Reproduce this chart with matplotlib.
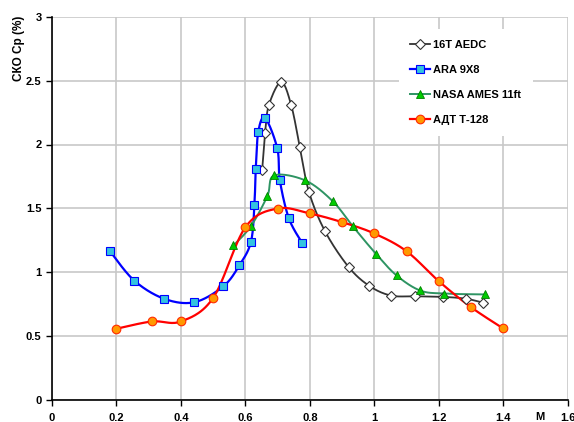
import numpy as np
import matplotlib
matplotlib.use("Agg")
import matplotlib.pyplot as plt
from matplotlib.lines import Line2D

plt.rcParams['font.family'] = ['Liberation Sans', 'DejaVu Sans']

# ---- data ----
m_aedc = [0.652, 0.661, 0.673, 0.711, 0.742, 0.769, 0.797, 0.847, 0.920, 0.985, 1.052, 1.126, 1.214, 1.285, 1.336]
v_aedc = [1.80, 2.09, 2.31, 2.49, 2.31, 1.98, 1.63, 1.32, 1.04, 0.89, 0.815, 0.81, 0.805, 0.79, 0.76]

m_ara = [0.180, 0.255, 0.348, 0.442, 0.532, 0.581, 0.617, 0.628, 0.632, 0.640, 0.661, 0.699, 0.707, 0.735, 0.777]
v_ara = [1.163, 0.933, 0.790, 0.763, 0.889, 1.051, 1.234, 1.522, 1.804, 2.100, 2.209, 1.969, 1.718, 1.420, 1.224]

m_nasa = [0.563, 0.617, 0.668, 0.689, 0.786, 0.871, 0.933, 1.005, 1.069, 1.142, 1.216, 1.343]
v_nasa = [1.208, 1.359, 1.595, 1.757, 1.718, 1.555, 1.359, 1.143, 0.973, 0.855, 0.831, 0.824]

m_adt = [0.2, 0.31, 0.4, 0.5, 0.6, 0.7, 0.8, 0.9, 1.0, 1.1, 1.2, 1.3, 1.4]
v_adt = [0.555, 0.612, 0.612, 0.797, 1.351, 1.498, 1.459, 1.391, 1.302, 1.163, 0.928, 0.724, 0.557]

labels = ['16T AEDC', 'ARA 9X8', 'NASA AMES 11ft', 'АДТ Т-128']
xticks = [0, 0.2, 0.4, 0.6, 0.8, 1, 1.2, 1.4, 1.6]
xticklabels = ['0', '0.2', '0.4', '0.6', '0.8', '1', '1.2', '1.4', '1.6']
yticks = [0, 0.5, 1, 1.5, 2, 2.5, 3]
yticklabels = ['0', '0.5', '1', '1.5', '2', '2.5', '3']


def smooth(x, y, n=30):
    """Excel-like smoothed line (Catmull-Rom Bezier) through the points."""
    p = np.column_stack([x, y]).astype(float)
    sx, sy = 322.3, 127.5
    p = p * [sx, sy]
    pts = np.vstack([p[0], p, p[-1]])
    out = []
    t = np.linspace(0, 1, n)[:, None]
    for i in range(1, len(pts) - 2):
        p0, p1, p2, p3 = pts[i - 1], pts[i], pts[i + 1], pts[i + 2]
        c1 = p1 + (p2 - p0) / 6.0
        c2 = p2 - (p3 - p1) / 6.0
        b = ((1 - t) ** 3) * p1 + 3 * ((1 - t) ** 2) * t * c1 + 3 * (1 - t) * t ** 2 * c2 + t ** 3 * p2
        out.append(b if i == 1 else b[1:])
    out = np.vstack(out) / [sx, sy]
    return out[:, 0], out[:, 1]


fig = plt.figure(figsize=(5.74, 4.22), dpi=100)
ax = fig.add_axes([52 / 574, (422 - 399.5) / 422, (567.7 - 52) / 574, (399.5 - 17) / 422])

series = [
    (m_aedc, v_aedc, dict(color='#333333', lw=1.3, marker='D', ms=4.6, mfc='white', mec='#333333', mew=0.8)),
    (m_ara, v_ara, dict(color='#0000ff', lw=1.6, marker='s', ms=5.2, mfc='#33c3e0', mec='#0000ff', mew=0.8)),
    (m_nasa, v_nasa, dict(color='#2e9463', lw=1.4, marker='^', ms=6.2, mfc='#00cc00', mec='#008000', mew=0.6)),
    (m_adt, v_adt, dict(color='#ff0000', lw=1.6, marker='o', ms=6.2, mfc='#ff9900', mec='#ff2a00', mew=0.8)),
]

handles = []
for (mx, vy, st), lab in zip(series, labels):
    sxs, sys_ = smooth(mx, vy)
    ax.plot(sxs, sys_, color=st['color'], lw=st['lw'], zorder=3, solid_capstyle='round')
    ax.plot(mx, vy, ls='none', marker=st['marker'], ms=st['ms'], mfc=st['mfc'],
            mec=st['mec'], mew=st['mew'], zorder=4)
    handles.append(Line2D([], [], color=st['color'], lw=st['lw'], marker=st['marker'],
                          ms=st['ms'], mfc=st['mfc'], mec=st['mec'], mew=st['mew']))

ax.set_xlim(0, 1.6)
ax.set_ylim(0, 3)
ax.set_xticks(xticks)
ax.set_xticklabels(xticklabels, fontsize=8, fontweight='bold')
ax.set_yticks(yticks)
ax.set_yticklabels(yticklabels, fontsize=8, fontweight='bold')
ax.tick_params(direction='out', length=4, width=1, color='black')
ax.tick_params(axis='x', pad=6)
ax.tick_params(axis='y', pad=3.5)
ax.grid(True, color='#c8c8c8', lw=1.2)
ax.set_axisbelow(True)
for s in ['top', 'right']:
    ax.spines[s].set_visible(False)
for s in ['left', 'bottom']:
    ax.spines[s].set_linewidth(1.2)

fig.text(19 / 574, 1 - 48 / 422, 'СКО Ср (%)', rotation=90, ha='center', va='center',
         fontsize=8.5, fontweight='bold')
fig.text(540 / 574, 1 - 417 / 422, 'M', ha='center', va='center', fontsize=8, fontweight='bold')

leg = ax.legend(handles, labels, loc='upper left', bbox_to_anchor=(399 / 574, 1 - 28.5 / 422),
                bbox_transform=fig.transFigure, frameon=True, fancybox=False,
                edgecolor='none', facecolor='white', framealpha=1,
                prop=dict(size=8, weight='bold'), handlelength=1.8, handletextpad=0.3,
                labelspacing=1.37, borderpad=1.0, borderaxespad=0)
leg.set_zorder(10)

fig.savefig('out.png', dpi=100)
